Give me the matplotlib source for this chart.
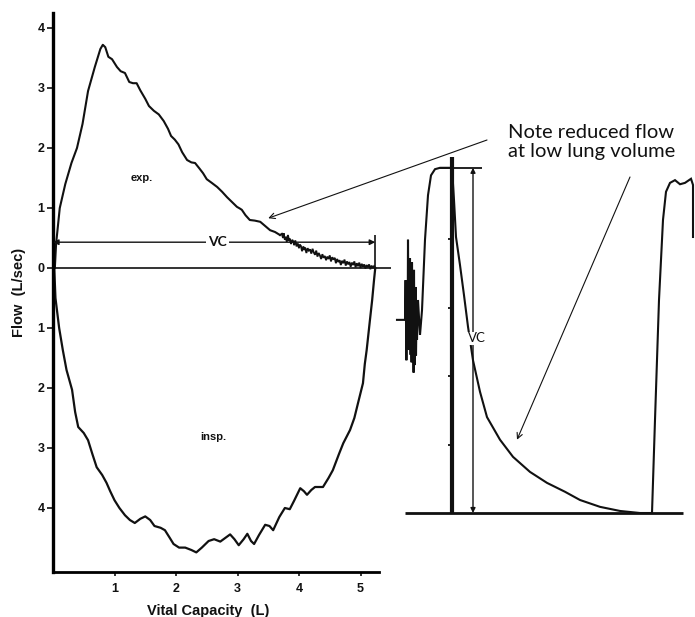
import matplotlib
matplotlib.use('Agg')
import matplotlib.pyplot as plt

plt.rcParams['font.family'] = ['Liberation Sans', 'DejaVu Sans']

# flow-volume loop: expiration (vol L, flow L/s)
exp_vol = [0.03, 0.05, 0.11, 0.2, 0.3, 0.39, 0.48, 0.57, 0.68, 0.77, 0.81, 0.85, 0.9, 0.96,
           1.04, 1.1, 1.17, 1.24, 1.3, 1.36, 1.42, 1.5, 1.56, 1.64, 1.72, 1.8, 1.87, 1.92,
           1.98, 2.04, 2.1, 2.18, 2.25, 2.31, 2.38, 2.44, 2.5, 2.58, 2.67, 2.75, 2.83, 2.91,
           2.99, 3.04, 3.07, 3.13, 3.2, 3.28, 3.37, 3.45, 3.53, 3.61, 3.69,
           3.72, 3.74, 3.75, 3.77, 3.79, 3.80, 3.82, 3.84, 3.85, 3.87, 3.89, 3.91, 3.92, 3.94,
           3.96, 3.98, 4.00, 4.01, 4.03, 4.05, 4.07, 4.09, 4.10, 4.12, 4.14, 4.16, 4.18, 4.20,
           4.22, 4.24, 4.26, 4.28, 4.30, 4.32, 4.34, 4.36, 4.38, 4.40, 4.42, 4.44, 4.46, 4.48,
           4.50, 4.52, 4.54, 4.56, 4.58, 4.60, 4.62, 4.64, 4.66, 4.68, 4.70, 4.72, 4.74, 4.76,
           4.78, 4.80, 4.82, 4.84, 4.86, 4.88, 4.90, 4.92, 4.94, 4.96, 4.98, 5.00, 5.02, 5.04,
           5.06, 5.08, 5.10, 5.12, 5.14, 5.16, 5.18, 5.20, 5.22, 5.24]
exp_flow = [0.0, 0.4, 1.0, 1.4, 1.75, 2.0, 2.4, 2.95, 3.35, 3.65, 3.72, 3.68, 3.52, 3.48,
            3.35, 3.28, 3.25, 3.1, 3.08, 3.08, 2.96, 2.82, 2.7, 2.62, 2.56, 2.45, 2.32, 2.2,
            2.14, 2.06, 1.93, 1.8, 1.76, 1.75, 1.66, 1.58, 1.48, 1.42, 1.35, 1.27, 1.18, 1.1,
            1.02, 0.99, 0.97, 0.88, 0.8, 0.79, 0.77, 0.7, 0.63, 0.6, 0.55,
            0.57, 0.50, 0.58, 0.47, 0.52, 0.44, 0.55, 0.45, 0.49, 0.40, 0.47, 0.44, 0.38, 0.46,
            0.36, 0.41, 0.33, 0.39, 0.37, 0.28, 0.36, 0.30, 0.34, 0.25, 0.33, 0.29, 0.31, 0.24,
            0.32, 0.26, 0.22, 0.29, 0.19, 0.25, 0.21, 0.15, 0.23, 0.17, 0.20, 0.13, 0.19, 0.15,
            0.21, 0.11, 0.18, 0.14, 0.17, 0.08, 0.15, 0.10, 0.13, 0.05, 0.12, 0.08, 0.14, 0.04,
            0.11, 0.06, 0.10, 0.02, 0.09, 0.05, 0.11, 0.01, 0.08, 0.03, 0.09, 0.00, 0.07, 0.02,
            0.06, -0.01, 0.05, 0.01, 0.06, -0.02, 0.04, 0.00, 0.03, 0.0]

# inspiration (flow plotted downward)
insp_vol = [0.02, 0.04, 0.1, 0.16, 0.22, 0.31, 0.36, 0.41, 0.5, 0.57, 0.64, 0.71, 0.8, 0.87,
            0.93, 1.0, 1.08, 1.17, 1.25, 1.33, 1.42, 1.5, 1.58, 1.65, 1.75, 1.82, 1.9, 1.96,
            2.05, 2.15, 2.25, 2.33, 2.42, 2.53, 2.62, 2.72, 2.8, 2.88, 2.95, 3.02, 3.1, 3.16,
            3.22, 3.27, 3.35, 3.45, 3.52, 3.58, 3.68, 3.77, 3.85, 3.92, 4.02, 4.08, 4.13, 4.2,
            4.26, 4.39, 4.48, 4.55, 4.65, 4.72, 4.83, 4.9, 4.96, 5.04, 5.07, 5.1, 5.15, 5.19,
            5.22, 5.24]
insp_flow = [0.0, -0.5, -1.0, -1.37, -1.7, -2.03, -2.4, -2.65, -2.75, -2.87, -3.1, -3.32, -3.45,
             -3.58, -3.72, -3.87, -4.0, -4.12, -4.2, -4.25, -4.18, -4.14, -4.2, -4.3, -4.33,
             -4.37, -4.5, -4.6, -4.66, -4.66, -4.7, -4.74, -4.66, -4.55, -4.52, -4.56, -4.5,
             -4.44, -4.52, -4.62, -4.52, -4.43, -4.55, -4.6, -4.45, -4.28, -4.3, -4.37, -4.15,
             -4.0, -4.02, -3.88, -3.67, -3.72, -3.78, -3.7, -3.65, -3.65, -3.5, -3.37, -3.1,
             -2.92, -2.7, -2.5, -2.25, -1.92, -1.6, -1.37, -0.9, -0.53, -0.2, 0.0]

vc_loop = 5.24
vc_level = 0.43

yticks = [4, 3, 2, 1, 0, -1, -2, -3, -4]
ytick_labels = ['4', '3', '2', '1', '0', '1', '2', '3', '4']
xticks = [1, 2, 3, 4, 5]

# spirogram (time s, volume L)
spiro_t = [-2.75, -2.35, -2.32, -2.28, -2.25, -2.22, -2.2, -2.17, -2.15, -2.12, -2.1, -2.07,
           -2.05, -2.02, -2.0, -1.97, -1.95, -1.92, -1.9, -1.87, -1.85, -1.82, -1.8, -1.77,
           -1.75, -1.7, -1.6, -1.5, -1.35, -1.2, -1.05, -0.85, -0.6, 0.0,
           0.1, 0.2, 0.4, 0.6, 0.8, 1.05, 1.4, 1.75, 2.4, 3.05, 3.9, 4.75, 5.65, 6.4, 7.4,
           8.4, 9.4, 10.0, 10.15, 10.35, 10.55, 10.7, 10.9, 11.15, 11.4, 11.65, 11.95,
           12.05, 12.05]
spiro_v = [2.82, 2.82, 3.40, 2.23, 3.10, 2.45, 3.99, 2.60, 2.38, 3.30, 3.72, 2.31,
           2.90, 2.20, 3.66, 2.53, 3.20, 2.05, 3.55, 2.16, 2.70, 3.30, 2.30, 2.95,
           2.53, 3.11, 2.60, 2.96, 3.99, 4.64, 4.93, 5.02, 5.04, 5.04,
           4.57, 4.03, 3.62, 3.18, 2.72, 2.23, 1.77, 1.40, 1.07, 0.82, 0.60, 0.44, 0.31,
           0.19, 0.09, 0.03, 0.0, 0.0, 1.36, 3.11, 4.28, 4.69, 4.82, 4.86, 4.80, 4.82,
           4.88, 4.79, 4.03]
vc_spiro = 5.04
spiro_ticks = [1, 2, 3, 4]

W, H = 695, 617
fig = plt.figure(figsize=(W / 100, H / 100), dpi=100)
ink = '#111111'

# ---- left panel: flow-volume loop
ax = fig.add_axes([53 / W, (H - 572.2) / H, 338.25 / W, 559.2 / H])
ax.set_xlim(0, 5.5)
ax.set_ylim(-5.07, 4.25)
ax.plot(exp_vol[:53], exp_flow[:53], color=ink, lw=1.5)
ax.plot(exp_vol[52:], exp_flow[52:], color=ink, lw=1.3, solid_joinstyle='miter')
ax.plot(insp_vol, insp_flow, color=ink, lw=1.6)
ax.axhline(0, color=ink, lw=1.2)
ax.vlines(vc_loop, 0, 0.55, color=ink, lw=1.2)
ax.annotate('', xy=(vc_loop, vc_level), xytext=(0, vc_level),
            arrowprops=dict(arrowstyle='<|-|>', color=ink, lw=1.0, mutation_scale=8,
                            shrinkA=0, shrinkB=0))
ax.text(2.68, vc_level, 'VC', ha='center', va='center', fontsize=10, color=ink,
        family=['Lato', 'DejaVu Sans'], fontweight='bold',
        bbox=dict(facecolor='white', edgecolor='none', pad=1.5))
ax.text(1.45, 1.5, 'exp.', ha='center', va='center', fontsize=8, fontweight='bold', color=ink)
ax.text(2.6, -2.82, 'insp.', ha='center', va='center', fontsize=8, fontweight='bold', color=ink)

for s in ['top', 'right']:
    ax.spines[s].set_visible(False)
ax.spines['left'].set_linewidth(2.4)
ax.spines['bottom'].set_linewidth(2.0)
ax.spines['bottom'].set_bounds(0, 5.3)
ax.set_yticks(yticks)
ax.set_yticklabels(ytick_labels, fontweight='bold', fontsize=9)
ax.set_xticks(xticks)
ax.set_xticklabels([str(v) for v in xticks], fontweight='bold', fontsize=9)
ax.tick_params(axis='y', length=4, width=1.2, pad=2, colors=ink)
ax.tick_params(axis='x', length=3, width=1.2, pad=5, colors=ink)
ax.set_ylabel('Flow  (L/sec)', fontweight='bold', fontsize=10.5, labelpad=8, color=ink)
ax.set_xlabel('Vital Capacity  (L)', fontweight='bold', fontsize=10.5, labelpad=6,
              color=ink, x=0.46)

# ---- right panel: spirogram
ax2 = fig.add_axes([380 / W, (H - 530) / H, 315 / W, 430 / H])
ax2.set_xlim(-3.6, 12.15)
ax2.set_ylim(-0.248, 6.03)
ax2.axis('off')
ax2.plot(spiro_t, spiro_v, color=ink, lw=1.5, solid_joinstyle='miter')
ax2.hlines(0, -2.35, 11.55, color=ink, lw=2.0)
ax2.vlines(0, 0, 5.2, color=ink, lw=3.0)
ax2.hlines(vc_spiro, -0.6, 1.5, color=ink, lw=1.3)
for v in spiro_ticks:
    ax2.hlines(v, -0.22, 0, color=ink, lw=1.3)
ax2.annotate('', xy=(1.05, vc_spiro), xytext=(1.05, 0),
             arrowprops=dict(arrowstyle='<|-|>', color=ink, lw=1.0, mutation_scale=7,
                             shrinkA=0, shrinkB=0))
ax2.text(1.25, 2.55, 'VC', ha='center', va='center', fontsize=9.5, color=ink,
         family=['Lato', 'DejaVu Sans'],
         bbox=dict(facecolor='white', edgecolor='none', pad=0.5))

# ---- note with arrows
fig.text(508 / W, 1 - 142 / H, 'Note reduced flow\nat low lung volume', ha='left', va='center',
         fontsize=14.5, family=['Lato', 'DejaVu Sans'], color=ink, linespacing=1.2)
ax.annotate('', xy=(3.5, 0.83), xycoords='data', xytext=(487 / W, 1 - 140 / H),
            textcoords='figure fraction',
            arrowprops=dict(arrowstyle='->', color=ink, lw=0.8, shrinkA=0, shrinkB=0))
ax2.annotate('', xy=(3.25, 1.07), xycoords='data', xytext=(630 / W, 1 - 177 / H),
             textcoords='figure fraction',
             arrowprops=dict(arrowstyle='->', color=ink, lw=0.8, shrinkA=0, shrinkB=0))

fig.savefig('out.png', dpi=100, facecolor='white')
